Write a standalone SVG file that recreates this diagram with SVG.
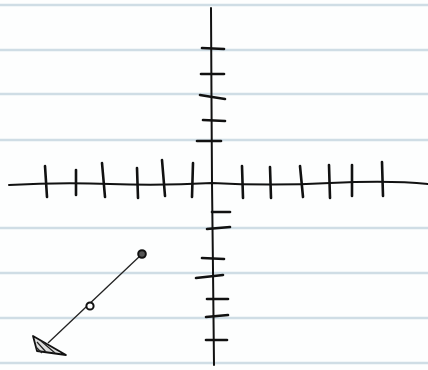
<svg xmlns="http://www.w3.org/2000/svg" width="428" height="370" viewBox="0 0 428 370">
<style>
.rule{stroke:#cfdde5;stroke-width:2.5}
.ax{stroke:#111;stroke-width:2;fill:none;stroke-linecap:round}
.tk{stroke:#111;stroke-width:2.6;fill:none;stroke-linecap:round}
.ln{stroke:#222;stroke-width:1.3;fill:none}
</style>
<rect width="428" height="370" fill="#fdfefe"/>
<g id="paper">
<line class="rule" x1="0" y1="5" x2="428" y2="5"/>
<line class="rule" x1="0" y1="50" x2="428" y2="50"/>
<line class="rule" x1="0" y1="94" x2="428" y2="94"/>
<line class="rule" x1="0" y1="140" x2="428" y2="140"/>
<line class="rule" x1="0" y1="228" x2="428" y2="228"/>
<line class="rule" x1="0" y1="273" x2="428" y2="273"/>
<line class="rule" x1="0" y1="318" x2="428" y2="318"/>
<line class="rule" x1="0" y1="363" x2="428" y2="363"/>
</g>
<g id="axes">
<path class="ax" d="M211 8 L211.5 100 L212 183 L213 270 L214 365"/>
<path class="ax" d="M9 185 Q60 182 110 184 T212 183 Q270 186 330 183 T428 184"/>
</g>
<g id="ticks">
<path class="tk" d="M202 48 L224 49"/>
<path class="tk" d="M201 74 L224 74"/>
<path class="tk" d="M200 95 Q212 97 225 99"/>
<path class="tk" d="M203 120 L225 121"/>
<path class="tk" d="M197 141 L221 141"/>
<path class="tk" d="M212 212 L230 212"/>
<path class="tk" d="M207 229 L230 227"/>
<path class="tk" d="M202 258 L224 259"/>
<path class="tk" d="M196 278 L223 275"/>
<path class="tk" d="M207 299 L228 299"/>
<path class="tk" d="M206 317 L228 315"/>
<path class="tk" d="M206 340 L227 340"/>
<path class="tk" d="M45 166 L47 197"/>
<path class="tk" d="M76 170 L76 195"/>
<path class="tk" d="M102 163 L105 197"/>
<path class="tk" d="M137 168 L138 198"/>
<path class="tk" d="M162 160 L165 196"/>
<path class="tk" d="M193 163 L192 197"/>
<path class="tk" d="M242 166 L243 198"/>
<path class="tk" d="M270 167 L271 198"/>
<path class="tk" d="M300 166 L303 197"/>
<path class="tk" d="M329 165 L330 198"/>
<path class="tk" d="M352 165 L352 196"/>
<path class="tk" d="M382 162 L383 196"/>
</g>
<g id="vector">
<line class="ln" x1="141" y1="255" x2="48" y2="343"/>
<circle cx="142" cy="254" r="3.8" fill="#555" stroke="#111" stroke-width="2"/>
<circle cx="90" cy="306" r="3.6" fill="#fff" stroke="#111" stroke-width="2"/>
<path d="M33 336 L37 351 L66 355 Z" fill="#ddd" stroke="#111" stroke-width="1.8" stroke-linejoin="round"/>
<path d="M37 342 L46 352 M41 341 L55 353 M36 347 L42 353" stroke="#222" stroke-width="1.2"/>
</g>
</svg>
